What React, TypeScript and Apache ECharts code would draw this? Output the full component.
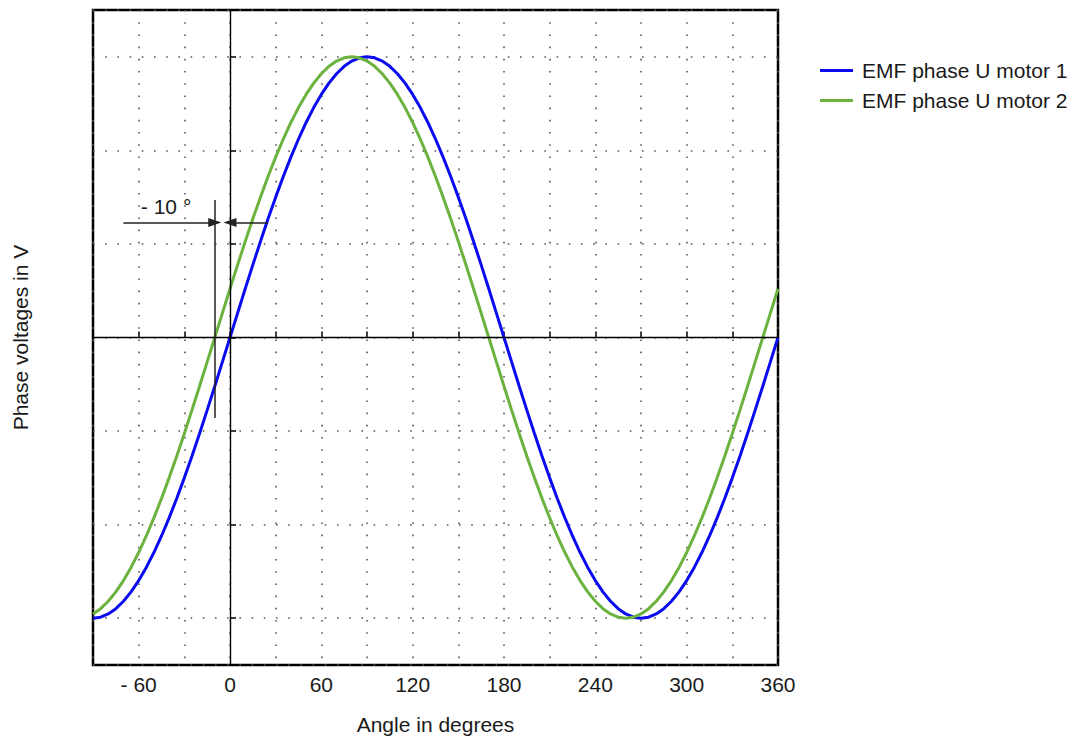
import React, { useEffect, useRef } from "react";
import * as echarts from "echarts";

const angles = [
  -90, -85, -80, -75, -70, -65, -60, -55, -50, -45, -40, -35, -30, -25, -20, -15, -10, -5, 0,
  5, 10, 15, 20, 25, 30, 35, 40, 45, 50, 55, 60, 65, 70, 75, 80, 85, 90,
  95, 100, 105, 110, 115, 120, 125, 130, 135, 140, 145, 150, 155, 160, 165, 170, 175, 180,
  185, 190, 195, 200, 205, 210, 215, 220, 225, 230, 235, 240, 245, 250, 255, 260, 265, 270,
  275, 280, 285, 290, 295, 300, 305, 310, 315, 320, 325, 330, 335, 340, 345, 350, 355, 360,
];

const motor1 = [
  -3, -2.989, -2.954, -2.898, -2.819, -2.719, -2.598, -2.457, -2.298, -2.121, -1.928, -1.721,
  -1.5, -1.268, -1.026, -0.776, -0.521, -0.261, 0,
  0.261, 0.521, 0.776, 1.026, 1.268, 1.5, 1.721, 1.928, 2.121, 2.298, 2.457, 2.598, 2.719,
  2.819, 2.898, 2.954, 2.989, 3,
  2.989, 2.954, 2.898, 2.819, 2.719, 2.598, 2.457, 2.298, 2.121, 1.928, 1.721, 1.5, 1.268,
  1.026, 0.776, 0.521, 0.261, 0,
  -0.261, -0.521, -0.776, -1.026, -1.268, -1.5, -1.721, -1.928, -2.121, -2.298, -2.457,
  -2.598, -2.719, -2.819, -2.898, -2.954, -2.989, -3,
  -2.989, -2.954, -2.898, -2.819, -2.719, -2.598, -2.457, -2.298, -2.121, -1.928, -1.721,
  -1.5, -1.268, -1.026, -0.776, -0.521, -0.261, 0,
];

const motor2 = [
  -2.954, -2.898, -2.819, -2.719, -2.598, -2.457, -2.298, -2.121, -1.928, -1.721, -1.5,
  -1.268, -1.026, -0.776, -0.521, -0.261, 0,
  0.261, 0.521, 0.776, 1.026, 1.268, 1.5, 1.721, 1.928, 2.121, 2.298, 2.457, 2.598, 2.719,
  2.819, 2.898, 2.954, 2.989, 3,
  2.989, 2.954, 2.898, 2.819, 2.719, 2.598, 2.457, 2.298, 2.121, 1.928, 1.721, 1.5, 1.268,
  1.026, 0.776, 0.521, 0.261, 0,
  -0.261, -0.521, -0.776, -1.026, -1.268, -1.5, -1.721, -1.928, -2.121, -2.298, -2.457,
  -2.598, -2.719, -2.819, -2.898, -2.954, -2.989, -3,
  -2.989, -2.954, -2.898, -2.819, -2.719, -2.598, -2.457, -2.298, -2.121, -1.928, -1.721,
  -1.5, -1.268, -1.026, -0.776, -0.521, -0.261, 0,
  0.261, 0.521,
];

const xTickValues = [-60, 0, 60, 120, 180, 240, 300, 360];
const xTickLabels = ["- 60", "0", "60", "120", "180", "240", "300", "360"];

const seriesNames = ["EMF phase U motor 1", "EMF phase U motor 2"];
const seriesColors = ["#0b0bf0", "#6bb23f"];

// annotation (data coordinates)
const shiftLineX = -10;
const shiftLineY = [1.47, -0.86];
const arrowY = 1.23;
const arrowLeft = [-70, -10];
const arrowRight = [25, 0];
const shiftText = "- 10 °";
const shiftTextPos = [-42, 1.4];

const FONT = "'Liberation Sans', Arial, sans-serif";
const FS = 21;

export default function App() {
  const ref = useRef<HTMLDivElement>(null);

  useEffect(() => {
    if (!ref.current) return;
    const chart = echarts.init(ref.current, undefined, { renderer: "svg" });
    const dotted = { color: "#555", width: 1.6, type: [1.6, 10.6] as any };
    const annoStyle = { color: "#222", width: 1.5, type: "solid" as const };

    chart.setOption({
      animation: false,
      textStyle: { fontFamily: FONT },
      grid: {
        left: 93,
        right: 307,
        top: 10,
        bottom: 73,
        containLabel: false,
        outerBoundsMode: "none",
        show: true,
        borderColor: "#000",
        borderWidth: 2.5,
        backgroundColor: "transparent",
      },
      legend: {
        orient: "vertical",
        left: 815,
        top: 55,
        itemWidth: 33,
        itemHeight: 3,
        itemGap: 9,
        textStyle: { fontSize: FS, color: "#1a1a1a", fontFamily: FONT, padding: [0, 0, 0, 4] },
        data: seriesNames.map((n) => ({ name: n, icon: "rect" })),
      },
      xAxis: {
        type: "value",
        min: -90,
        max: 360,
        interval: 30,
        name: "Angle in degrees",
        nameLocation: "middle",
        nameGap: 49,
        nameTextStyle: { fontSize: FS, color: "#1a1a1a", fontFamily: FONT },
        axisLine: { show: false },
        axisTick: { show: true, inside: true, length: 6, lineStyle: { color: "#000", width: 1.5 } },
        axisLabel: {
          fontSize: FS,
          color: "#1a1a1a",
          margin: 9,
          fontFamily: FONT,
          formatter: (v: number) => {
            const i = xTickValues.indexOf(v);
            return i >= 0 ? xTickLabels[i] : "";
          },
        },
        splitLine: { show: true, lineStyle: dotted },
      },
      yAxis: {
        type: "value",
        min: -3.5,
        max: 3.5,
        splitNumber: 7,
        name: "Phase voltages in V",
        nameLocation: "middle",
        nameGap: 62,
        nameTextStyle: { fontSize: FS, color: "#1a1a1a", fontFamily: FONT },
        axisLine: { show: false },
        axisTick: { show: true, inside: true, length: 6, lineStyle: { color: "#000", width: 1.5 } },
        axisLabel: { show: false },
        splitLine: { show: true, lineStyle: dotted },
      },
      series: [
        {
          name: seriesNames[0],
          type: "line",
          symbol: "none",
          lineStyle: { color: seriesColors[0], width: 3 },
          itemStyle: { color: seriesColors[0] },
          data: angles.map((a, i) => [a, motor1[i]]),
          z: 3,
        },
        {
          name: seriesNames[1],
          type: "line",
          symbol: "none",
          lineStyle: { color: seriesColors[1], width: 3 },
          itemStyle: { color: seriesColors[1] },
          data: angles.map((a, i) => [a, motor2[i]]),
          z: 4,
        },
        {
          name: "annotations",
          type: "line",
          data: [],
          silent: true,
          z: 2,
          markLine: {
            silent: true,
            symbol: ["none", "none"],
            label: { show: false },
            lineStyle: { color: "#000", width: 1.4, type: "solid" },
            data: [
              [{ coord: [0, -3.5] }, { coord: [0, 3.5] }],
              [{ coord: [-90, 0] }, { coord: [360, 0] }],
              [
                { coord: [shiftLineX, shiftLineY[0]], lineStyle: annoStyle },
                { coord: [shiftLineX, shiftLineY[1]] },
              ],
              [
                { coord: [arrowLeft[0], arrowY], lineStyle: annoStyle, symbol: "none" },
                { coord: [arrowLeft[1], arrowY], symbol: "triangle", symbolSize: [9, 13] },
              ],
              [
                { coord: [arrowRight[0], arrowY], lineStyle: annoStyle, symbol: "none" },
                { coord: [arrowRight[1], arrowY], symbol: "triangle", symbolSize: [9, 13] },
              ],
            ],
          },
          markPoint: {
            silent: true,
            symbol: "circle",
            symbolSize: 0,
            label: {
              show: true,
              position: "inside",
              formatter: shiftText,
              fontSize: FS,
              color: "#1a1a1a",
              fontFamily: FONT,
            },
            data: [{ coord: shiftTextPos }],
          },
        },
      ],
    });

    return () => chart.dispose();
  }, []);

  return (
    <div
      ref={ref}
      style={{ position: "fixed", left: 0, top: 0, width: 1085, height: 738, background: "#fff" }}
    />
  );
}
